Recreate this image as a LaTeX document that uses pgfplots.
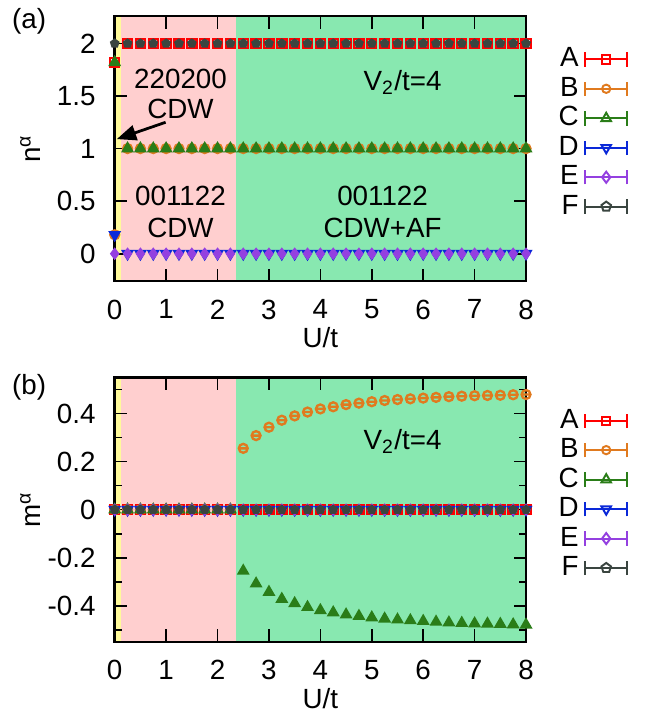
\documentclass[border=0pt]{standalone}
\usepackage{fontspec}
\setmainfont{Liberation Sans}
\usepackage{pgfplots}
\pgfplotsset{compat=1.18}
\usepackage{pgfplotstable}
\usetikzlibrary{arrows.meta}

\definecolor{cA}{HTML}{FF0000}
\definecolor{cB}{HTML}{E07A1F}
\definecolor{cC}{HTML}{2A7D18}
\definecolor{cD}{HTML}{0A28D8}
\definecolor{cE}{HTML}{9440E0}
\definecolor{cF}{HTML}{3A4540}
\definecolor{bgY}{HTML}{FFFA9A}
\definecolor{bgP}{HTML}{FFCFCF}
\definecolor{bgG}{HTML}{88E8B0}

\pgfdeclareplotmark{sqminus}{%
  \pgfpathrectangle{\pgfpoint{-\pgfplotmarksize}{-\pgfplotmarksize}}{\pgfpoint{2\pgfplotmarksize}{2\pgfplotmarksize}}%
  \pgfpathmoveto{\pgfpoint{-\pgfplotmarksize}{0pt}}\pgfpathlineto{\pgfpoint{\pgfplotmarksize}{0pt}}%
  \pgfusepathqstroke}
\pgfdeclareplotmark{ominus}{%
  \pgfpathcircle{\pgfpointorigin}{\pgfplotmarksize}%
  \pgfpathmoveto{\pgfpoint{-\pgfplotmarksize}{0pt}}\pgfpathlineto{\pgfpoint{\pgfplotmarksize}{0pt}}%
  \pgfusepathqstroke}

\pgfplotstableread{
U A B C D E F
0 1.82 0.18 1.82 0.18 0 2
0.25 2 1 1 0 0 2
0.5 2 1 1 0 0 2
0.75 2 1 1 0 0 2
1 2 1 1 0 0 2
1.25 2 1 1 0 0 2
1.5 2 1 1 0 0 2
1.75 2 1 1 0 0 2
2 2 1 1 0 0 2
2.25 2 1 1 0 0 2
2.5 2 1 1 0 0 2
2.75 2 1 1 0 0 2
3 2 1 1 0 0 2
3.25 2 1 1 0 0 2
3.5 2 1 1 0 0 2
3.75 2 1 1 0 0 2
4 2 1 1 0 0 2
4.25 2 1 1 0 0 2
4.5 2 1 1 0 0 2
4.75 2 1 1 0 0 2
5 2 1 1 0 0 2
5.25 2 1 1 0 0 2
5.5 2 1 1 0 0 2
5.75 2 1 1 0 0 2
6 2 1 1 0 0 2
6.25 2 1 1 0 0 2
6.5 2 1 1 0 0 2
6.75 2 1 1 0 0 2
7 2 1 1 0 0 2
7.25 2 1 1 0 0 2
7.5 2 1 1 0 0 2
7.75 2 1 1 0 0 2
8 2 1 1 0 0 2
}\tabn

\pgfplotstableread{
U A B C D E F
0 0 0 0 0 0 0
0.25 0 0 0 0 0 0
0.5 0 0 0 0 0 0
0.75 0 0 0 0 0 0
1 0 0 0 0 0 0
1.25 0 0 0 0 0 0
1.5 0 0 0 0 0 0
1.75 0 0 0 0 0 0
2 0 0 0 0 0 0
2.25 0 0 0 0 0 0
2.5 0 0.255 -0.255 0 0 0
2.75 0 0.308 -0.308 0 0 0
3 0 0.343 -0.343 0 0 0
3.25 0 0.372 -0.372 0 0 0
3.5 0 0.390 -0.390 0 0 0
3.75 0 0.406 -0.406 0 0 0
4 0 0.419 -0.419 0 0 0
4.25 0 0.428 -0.428 0 0 0
4.5 0 0.437 -0.437 0 0 0
4.75 0 0.443 -0.443 0 0 0
5 0 0.449 -0.449 0 0 0
5.25 0 0.454 -0.454 0 0 0
5.5 0 0.458 -0.458 0 0 0
5.75 0 0.461 -0.461 0 0 0
6 0 0.464 -0.464 0 0 0
6.25 0 0.467 -0.467 0 0 0
6.5 0 0.470 -0.470 0 0 0
6.75 0 0.472 -0.472 0 0 0
7 0 0.474 -0.474 0 0 0
7.25 0 0.475 -0.475 0 0 0
7.5 0 0.476 -0.476 0 0 0
7.75 0 0.478 -0.478 0 0 0
8 0 0.479 -0.479 0 0 0
}\tabm

\pgfplotsset{
  panel/.style={
    width=148.1pt, height=95.4pt, scale only axis,
    xmin=0, xmax=8, xtick={0,1,...,8},
    tick align=inside, major tick length=4.5pt, minor tick length=2.6pt,
    axis on top,
    axis line style={line width=0.9pt, black},
    every tick/.style={line width=0.6pt, black},
    /pgf/number format/assume math mode=true,
    xticklabel style={yshift=-3.2pt},
    yticklabel style={xshift=-3.4pt},
    xlabel={U/t},
    xlabel style={at={(axis description cs:0.5,-0.215)}, anchor=center},
    ylabel style={at={(axis description cs:-0.205,0.5)}, anchor=center, rotate=0},
    legend style={draw=none, fill=none, at={(axis description cs:1,1)}, anchor=north west,
      xshift=9.5pt, yshift=-9.2pt, row sep=-1.8pt, inner sep=0pt,
      nodes={inner sep=2pt}},
    legend plot pos=right,
    legend cell align=right,
    legend image code/.code={%
      \draw[##1, mark=none] (0pt,0pt) -- (15.2pt,0pt);
      \draw[##1, mark=none] (0pt,-2.6pt) -- (0pt,2.6pt);
      \draw[##1, mark=none] (15.2pt,-2.6pt) -- (15.2pt,2.6pt);
      \draw[##1] plot coordinates {(7.6pt,0pt)};
    },
  },
  sA/.style={cA, only marks, mark=sqminus, mark size=1.65pt, line width=0.8pt, forget plot},
  sB/.style={cB, only marks, mark=ominus, mark size=1.6pt, line width=0.85pt, forget plot},
  sC/.style={cC, only marks, mark=triangle*, mark size=2.2pt, line width=0.5pt, fill=cC, forget plot},
  sD/.style={cD, only marks, mark=triangle*, mark options={rotate=180}, mark size=2.2pt, line width=0.5pt, fill=cD, forget plot},
  sE/.style={cE, only marks, mark=diamond*, mark size=1.9pt, line width=0.5pt, fill=cE, forget plot},
  sF/.style={cF, only marks, mark=pentagon*, mark size=1.55pt, line width=0.5pt, fill=cF, forget plot},
  legs/.code={%
    \addlegendimage{cA, line width=0.7pt, mark=square, mark size=1.5pt}
    \addlegendentry{A}
    \addlegendimage{cB, line width=0.7pt, mark=o, mark size=1.5pt}
    \addlegendentry{B}
    \addlegendimage{cC, line width=0.7pt, mark=triangle, mark size=2pt}
    \addlegendentry{C}
    \addlegendimage{cD, line width=0.7pt, mark=triangle, mark options={rotate=180}, mark size=2pt}
    \addlegendentry{D}
    \addlegendimage{cE, line width=0.7pt, mark=diamond, mark size=2pt}
    \addlegendentry{E}
    \addlegendimage{cF, line width=0.7pt, mark=pentagon, mark size=1.8pt}
    \addlegendentry{F}
  },
}

\begin{document}
\begin{tikzpicture}
\path[use as bounding box] (-41.3pt,-154.8pt) rectangle (190.6pt,101.2pt);

\begin{axis}[panel, name=pa, at={(0pt,0pt)}, anchor=south west,
  ymin=-0.26, ymax=2.26, ytick={0,0.5,1,1.5,2},
  yticklabels={0,0.5,1,1.5,2},
  ylabel={n\textsuperscript{α}}]
\addplot[fill=bgY, draw=none, forget plot] coordinates {(0,-1) (0.12,-1) (0.12,3) (0,3)} -- cycle;
\addplot[fill=bgP, draw=none, forget plot] coordinates {(0.12,-1) (2.36,-1) (2.36,3) (0.12,3)} -- cycle;
\addplot[fill=bgG, draw=none, forget plot] coordinates {(2.36,-1) (8,-1) (8,3) (2.36,3)} -- cycle;
\pgfplotsset{legs}
\addplot[sA] table[x=U, y=A] {\tabn};
\addplot[sB] table[x=U, y=B] {\tabn};
\addplot[sC] table[x=U, y=C] {\tabn};
\addplot[sD] table[x=U, y=D] {\tabn};
\addplot[sE] table[x=U, y=E] {\tabn};
\addplot[sF] table[x=U, y=F] {\tabn};
\addplot[black, line width=1pt, -{Triangle[length=7pt, width=5.5pt]}, forget plot] coordinates {(0.99,1.25) (0.04,1.09)};
\node[anchor=base] at (axis cs:1.28,1.574) {220200};
\node[anchor=base] at (axis cs:1.28,1.287) {CDW};
\node[anchor=base] at (axis cs:1.28,0.460) {001122};
\node[anchor=base] at (axis cs:1.28,0.153) {CDW};
\node[anchor=base] at (axis cs:5.21,0.460) {001122};
\node[anchor=base] at (axis cs:5.21,0.153) {CDW+AF};
\node[anchor=base] at (axis cs:5.60,1.555) {V\textsubscript{2}/t=4};
\end{axis}

\begin{axis}[panel, name=pb, at={(0pt,-34.7pt)}, anchor=north west, height=95.2pt,
  ymin=-0.55, ymax=0.55, ytick={-0.4,-0.2,0,0.2,0.4},
  yticklabels={-0.4,-0.2,0,0.2,0.4},
  minor ytick={-0.5,-0.3,-0.1,0.1,0.3,0.5},
  ylabel={m\textsuperscript{α}}]
\addplot[fill=bgY, draw=none, forget plot] coordinates {(0,-1) (0.12,-1) (0.12,1) (0,1)} -- cycle;
\addplot[fill=bgP, draw=none, forget plot] coordinates {(0.12,-1) (2.36,-1) (2.36,1) (0.12,1)} -- cycle;
\addplot[fill=bgG, draw=none, forget plot] coordinates {(2.36,-1) (8,-1) (8,1) (2.36,1)} -- cycle;
\pgfplotsset{legs}
\addplot[sA] table[x=U, y=A] {\tabm};
\addplot[sB] table[x=U, y=B] {\tabm};
\addplot[sC] table[x=U, y=C] {\tabm};
\addplot[sD] table[x=U, y=D] {\tabm};
\addplot[sE] table[x=U, y=E] {\tabm};
\addplot[sF] table[x=U, y=F] {\tabm};
\node[anchor=base] at (axis cs:5.60,0.25) {V\textsubscript{2}/t=4};
\end{axis}

\node at ([xshift=-30.8pt, yshift=-1.8pt]pa.north west) {(a)};
\node at ([xshift=-30.8pt, yshift=-3.5pt]pb.north west) {(b)};
\end{tikzpicture}
\end{document}
